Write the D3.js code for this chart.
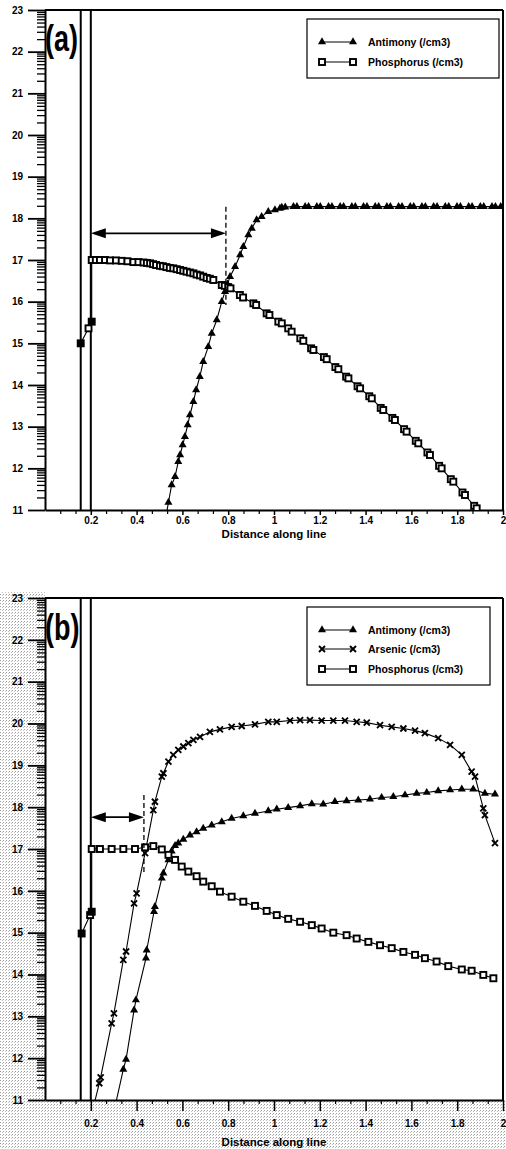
<!DOCTYPE html>
<html>
<head>
<meta charset="utf-8">
<script src="https://cdnjs.cloudflare.com/ajax/libs/d3/7.8.5/d3.min.js"></script>
<style>
  body { margin: 0; background: #fff; }
  svg { display: block; }
  .tick text { font-family: "Liberation Sans", Arial, sans-serif; font-weight: bold; font-size: 10px; fill: #000; }
  .lbl { font-family: "Liberation Sans", Arial, sans-serif; font-weight: bold; fill: #000; }
</style>
</head>
<body>
<script>
// ---- data: [distance, log10 concentration] ----
var antimonyA = [[0.53,10.9],[0.539,11.18],[0.553,11.6],[0.568,11.8],[0.582,12.16],[0.59,12.32],[0.601,12.56],
  [0.611,12.76],[0.623,13.04],[0.633,13.28],[0.648,13.6],[0.66,13.88],[0.676,14.2],[0.691,14.56],[0.713,14.92],
  [0.728,15.24],[0.75,15.56],[0.772,16.0],[0.786,16.24],[0.797,16.42],[0.808,16.6],[0.83,16.84],[0.852,17.12],
  [0.866,17.32],[0.888,17.6],[0.903,17.76],[0.924,17.96],[0.946,18.04],[0.975,18.16],[1.004,18.2],[1.026,18.24],
  [1.034,18.26],[1.049,18.27],[1.085,18.28],[1.1,18.28],[1.136,18.28],[1.151,18.28],[1.187,18.28],[1.202,18.28],
  [1.238,18.28],[1.253,18.28],[1.289,18.28],[1.304,18.28],[1.34,18.28],[1.355,18.28],[1.391,18.28],[1.406,18.28],
  [1.442,18.28],[1.457,18.28],[1.493,18.28],[1.508,18.28],[1.544,18.28],[1.559,18.28],[1.595,18.28],[1.61,18.28],
  [1.646,18.28],[1.661,18.28],[1.697,18.28],[1.712,18.28],[1.748,18.28],[1.763,18.28],[1.799,18.28],[1.814,18.28],
  [1.85,18.28],[1.865,18.28],[1.901,18.28],[1.916,18.28],[1.952,18.28],[1.967,18.28],[1.99,18.28]];

var phosphorusA = [[0.156,15.0],[0.19,15.36],[0.204,15.52],[0.204,17.0],[0.222,17.0],[0.24,17.0],[0.262,17.0],
  [0.284,16.99],[0.31,16.99],[0.335,16.98],[0.36,16.97],[0.386,16.95],[0.408,16.95],[0.43,16.94],[0.445,16.93],
  [0.459,16.92],[0.472,16.9],[0.485,16.88],[0.502,16.86],[0.515,16.85],[0.53,16.83],[0.545,16.81],[0.56,16.8],
  [0.575,16.78],[0.59,16.76],[0.604,16.74],[0.618,16.72],[0.633,16.7],[0.648,16.68],[0.662,16.65],[0.677,16.63],
  [0.691,16.6],[0.706,16.57],[0.72,16.55],[0.735,16.52],[0.772,16.4],[0.785,16.38],[0.8,16.35],[0.81,16.32],
  [0.851,16.16],[0.865,16.1],[0.91,15.96],[0.922,15.92],[0.968,15.72],[0.98,15.68],[1.019,15.52],[1.034,15.48],
  [1.062,15.36],[1.077,15.28],[1.115,15.12],[1.128,15.06],[1.162,14.88],[1.172,14.84],[1.218,14.67],[1.23,14.62],
  [1.268,14.43],[1.281,14.38],[1.315,14.2],[1.325,14.16],[1.365,13.97],[1.376,13.92],[1.416,13.73],[1.427,13.68],
  [1.466,13.45],[1.477,13.4],[1.517,13.21],[1.528,13.16],[1.568,12.94],[1.579,12.88],[1.619,12.66],[1.63,12.6],
  [1.67,12.38],[1.681,12.32],[1.721,12.06],[1.732,12.0],[1.772,11.74],[1.783,11.68],[1.823,11.42],[1.834,11.36],
  [1.874,11.1],[1.885,11.04]];

var antimonyB = [[0.3,10.7],[0.342,11.73],[0.354,11.97],[0.389,13.15],[0.397,13.39],[0.441,14.39],[0.444,14.58],
  [0.476,15.5],[0.48,15.62],[0.51,16.3],[0.517,16.42],[0.539,16.74],[0.553,16.95],[0.568,17.08],[0.582,17.14],
  [0.604,17.23],[0.633,17.33],[0.662,17.41],[0.691,17.49],[0.728,17.57],[0.772,17.65],[0.815,17.73],[0.866,17.79],
  [0.917,17.85],[0.975,17.91],[1.012,17.95],[1.062,17.99],[1.114,18.03],[1.165,18.08],[1.215,18.07],[1.266,18.13],
  [1.317,18.15],[1.368,18.17],[1.419,18.19],[1.47,18.23],[1.521,18.25],[1.572,18.29],[1.623,18.33],[1.667,18.35],
  [1.717,18.39],[1.769,18.41],[1.82,18.43],[1.87,18.43],[1.921,18.33],[1.965,18.31]];

var arsenicB = [[0.21,10.8],[0.237,11.4],[0.243,11.54],[0.291,12.83],[0.301,13.07],[0.342,14.35],[0.354,14.55],
  [0.389,15.7],[0.4,15.94],[0.437,16.9],[0.473,17.93],[0.48,18.13],[0.51,18.73],[0.517,18.81],[0.539,19.09],
  [0.56,19.25],[0.582,19.37],[0.604,19.45],[0.626,19.53],[0.648,19.61],[0.677,19.68],[0.72,19.8],[0.764,19.86],
  [0.815,19.92],[0.859,19.94],[0.917,19.98],[0.975,20.04],[1.012,20.04],[1.07,20.07],[1.114,20.08],[1.157,20.08],
  [1.208,20.07],[1.259,20.07],[1.31,20.07],[1.361,20.04],[1.405,20.02],[1.463,19.96],[1.514,19.92],[1.565,19.88],
  [1.616,19.83],[1.659,19.77],[1.717,19.65],[1.769,19.49],[1.82,19.25],[1.863,18.85],[1.878,18.73],[1.914,17.97],
  [1.921,17.81],[1.965,17.14]];

var phosphorusB = [[0.16,14.98],[0.197,15.42],[0.204,15.5],[0.204,17.0],[0.24,17.0],[0.291,17.0],[0.342,17.0],
  [0.393,17.0],[0.437,17.04],[0.473,17.07],[0.51,16.99],[0.539,16.86],[0.568,16.74],[0.597,16.58],[0.626,16.46],
  [0.662,16.35],[0.691,16.22],[0.728,16.11],[0.764,15.98],[0.815,15.86],[0.866,15.74],[0.917,15.64],[0.968,15.52],
  [1.012,15.42],[1.062,15.33],[1.114,15.26],[1.165,15.18],[1.208,15.1],[1.259,15.0],[1.317,14.94],[1.361,14.86],
  [1.412,14.78],[1.463,14.7],[1.514,14.63],[1.565,14.54],[1.616,14.47],[1.659,14.39],[1.71,14.31],[1.761,14.2],
  [1.82,14.12],[1.863,14.09],[1.914,13.99],[1.958,13.91]];

// ticks
var yMajorTicks = [11, 12, 13, 14, 15, 16, 17, 18, 19, 20, 21, 22, 23];
var xMajorTicks = [0.2, 0.4, 0.6, 0.8, 1, 1.2, 1.4, 1.6, 1.8, 2];

// interface lines and annotations (data units)
var interfaceLines = [0.156, 0.2];
var arrowA = { x1: 0.2, x2: 0.79, y: 17.64, dashTop: 18.28, dashBottom: 15.92 };
var arrowB = { x1: 0.2, x2: 0.432, y: 17.76, dashTop: 18.29, dashBottom: 16.42 };

// ---- page ----
var svgWidth = 506;
var svgHeight = 1149;

var svg = d3.select("body")
  .append("svg")
  .attr("width", svgWidth)
  .attr("height", svgHeight);

var defs = svg.append("defs");

// halftone grey round the lower plot (scan texture)
var pat = defs.append("pattern")
  .attr("id", "stipple")
  .attr("width", 3).attr("height", 3)
  .attr("patternUnits", "userSpaceOnUse");
pat.append("rect").attr("x", 0).attr("y", 0).attr("width", 1).attr("height", 1).attr("fill", "#9a9a9a");
pat.append("rect").attr("x", 2).attr("y", 1).attr("width", 1).attr("height", 1).attr("fill", "#c0c0c0");

svg.append("rect").attr("x", 0).attr("y", 592).attr("width", 45).attr("height", 557).attr("fill", "url(#stipple)");
svg.append("rect").attr("x", 0).attr("y", 1100).attr("width", 506).attr("height", 49).attr("fill", "url(#stipple)");

var minorY = [];
d3.range(11, 23).forEach(function(n) {
  d3.range(2, 10).forEach(function(k) { minorY.push(n + Math.log10(k)); });
});
var minorX = d3.range(1, 30).filter(function(i) { return i % 3 !== 0; }).map(function(i) { return i / 15; });

function drawMarker(g, type, px, py, filled) {
  if (type === "tri") {
    g.append("path")
      .attr("d", d3.symbol(d3.symbolTriangle, 28)())
      .attr("transform", "translate(" + px + "," + py + ")")
      .attr("fill", "#000");
  } else if (type === "sq") {
    g.append("rect")
      .attr("x", px - 3).attr("y", py - 3)
      .attr("width", 6).attr("height", 6)
      .attr("fill", filled ? "#000" : "#fff")
      .attr("stroke", "#000").attr("stroke-width", 1.9);
  } else {
    g.append("path")
      .attr("d", "M-3,-3L3,3M-3,3L3,-3")
      .attr("transform", "translate(" + px + "," + py + ")")
      .attr("stroke", "#000").attr("stroke-width", 1.9);
  }
}

function drawPanel(p) {
  var x = d3.scaleLinear().domain([0, 2]).range([45, 503]);
  var y = d3.scaleLinear().domain([11, 23]).range([p.bottom, p.top]);

  var g = svg.append("g");

  // white plot area
  g.append("rect")
    .attr("x", x(0)).attr("y", y(23))
    .attr("width", x(2) - x(0)).attr("height", y(11) - y(23))
    .attr("fill", "#fff");

  defs.append("clipPath").attr("id", "clip" + p.name)
    .append("rect")
    .attr("x", x(0)).attr("y", y(23))
    .attr("width", x(2) - x(0)).attr("height", y(11) - y(23));

  // y axis, minor log ticks first
  g.append("g")
    .attr("transform", "translate(" + x(0) + ",0)")
    .call(d3.axisLeft(y).tickValues(minorY).tickSize(8).tickSizeOuter(0).tickFormat(""))
    .call(function(a) { a.select(".domain").remove(); })
    .selectAll("line").attr("stroke-width", 1.3);

  var ya = g.append("g")
    .attr("transform", "translate(" + x(0) + ",0)")
    .call(d3.axisLeft(y).tickValues(yMajorTicks).tickSize(17).tickSizeOuter(0).tickPadding(5).tickFormat(d3.format("d")));
  ya.selectAll("line").attr("stroke-width", 1.8);
  ya.select(".domain").attr("stroke-width", 2);

  // x axis
  g.append("g")
    .attr("transform", "translate(0," + y(11) + ")")
    .call(d3.axisBottom(x).tickValues(minorX).tickSize(4).tickSizeOuter(0).tickFormat(""))
    .call(function(a) { a.select(".domain").remove(); })
    .selectAll("line").attr("stroke-width", 1.2);

  var xa = g.append("g")
    .attr("transform", "translate(0," + y(11) + ")")
    .call(d3.axisBottom(x).tickValues(xMajorTicks).tickSize(p.xTick).tickSizeOuter(0).tickPadding(p.xPad).tickFormat(d3.format("~g")));
  xa.selectAll("line").attr("stroke-width", 1.5);
  xa.select(".domain").attr("stroke-width", 2);

  g.append("text")
    .attr("class", "lbl")
    .attr("x", x(1)).attr("y", p.titleY)
    .attr("text-anchor", "middle")
    .style("font-size", "11.5px")
    .text("Distance along line");

  // frame top and right
  g.append("line").attr("x1", x(0)).attr("x2", x(2)).attr("y1", y(23)).attr("y2", y(23))
    .attr("stroke", "#000").attr("stroke-width", 2);
  g.append("line").attr("x1", x(2)).attr("x2", x(2)).attr("y1", y(23)).attr("y2", y(11))
    .attr("stroke", "#000").attr("stroke-width", 2);

  // interface lines
  g.selectAll(".iface").data(interfaceLines).enter().append("line")
    .attr("x1", function(d) { return x(d); }).attr("x2", function(d) { return x(d); })
    .attr("y1", y(23)).attr("y2", y(11))
    .attr("stroke", "#000").attr("stroke-width", 2);

  var plot = g.append("g").attr("clip-path", "url(#clip" + p.name + ")");
  var line = d3.line().x(function(d) { return x(d[0]); }).y(function(d) { return y(d[1]); });

  p.series.forEach(function(s) {
    plot.append("path").datum(s.data)
      .attr("d", line)
      .attr("fill", "none")
      .attr("stroke", "#000")
      .attr("stroke-width", 1.1);
    s.data.forEach(function(d, i) {
      var filled = s.type === "sq" && (i === 0 || i === 2);
      drawMarker(plot, s.type, x(d[0]), y(d[1]), filled);
    });
  });

  // double arrow and dashed marker
  var ar = p.arrow;
  var ay = y(ar.y);
  g.append("line").attr("x1", x(ar.x1) + 4).attr("x2", x(ar.x2) - 4).attr("y1", ay).attr("y2", ay)
    .attr("stroke", "#000").attr("stroke-width", 1.8);
  g.append("path")
    .attr("d", "M" + x(ar.x1) + "," + ay + "l15,-5v10z")
    .attr("fill", "#000");
  g.append("path")
    .attr("d", "M" + x(ar.x2) + "," + ay + "l-15,-5v10z")
    .attr("fill", "#000");
  g.append("line").attr("x1", x(ar.x2)).attr("x2", x(ar.x2))
    .attr("y1", y(ar.dashTop)).attr("y2", y(ar.dashBottom))
    .attr("stroke", "#000").attr("stroke-width", 1.3)
    .attr("stroke-dasharray", "5,3");

  // panel letter
  g.append("text")
    .attr("class", "lbl")
    .attr("transform", "translate(45," + p.letterY + ") scale(1,1.35)")
    .style("font-size", "27px")
    .text(p.letter);

  // legend
  var L = p.legend;
  g.append("rect")
    .attr("x", L.x).attr("y", L.y).attr("width", L.w).attr("height", L.h)
    .attr("fill", "#fff").attr("stroke", "#000").attr("stroke-width", 1.2);
  p.series.forEach(function(s, i) {
    var ly = L.rows[i];
    g.append("line").attr("x1", 322).attr("x2", 353).attr("y1", ly).attr("y2", ly)
      .attr("stroke", "#000").attr("stroke-width", 1);
    drawMarker(g, s.type, 322, ly, false);
    drawMarker(g, s.type, 353, ly, false);
    g.append("text")
      .attr("class", "lbl")
      .attr("x", 368).attr("y", ly + 3.5)
      .style("font-size", "10.5px")
      .text(s.name);
  });
}

drawPanel({
  name: "a", letter: "(a)", top: 10, bottom: 510, xTick: 5, xPad: 2, titleY: 538, letterY: 51,
  series: [
    { name: "Antimony (/cm3)", type: "tri", data: antimonyA },
    { name: "Phosphorus (/cm3)", type: "sq", data: phosphorusA }
  ],
  arrow: arrowA,
  legend: { x: 307, y: 19, w: 192, h: 59, rows: [42, 62] }
});

drawPanel({
  name: "b", letter: "(b)", top: 598, bottom: 1100, xTick: 11, xPad: 9, titleY: 1146, letterY: 640,
  series: [
    { name: "Antimony (/cm3)", type: "tri", data: antimonyB },
    { name: "Arsenic (/cm3)", type: "x", data: arsenicB },
    { name: "Phosphorus (/cm3)", type: "sq", data: phosphorusB }
  ],
  arrow: arrowB,
  legend: { x: 307, y: 607, w: 183, h: 78, rows: [630, 649, 669] }
});
</script>
</body>
</html>
